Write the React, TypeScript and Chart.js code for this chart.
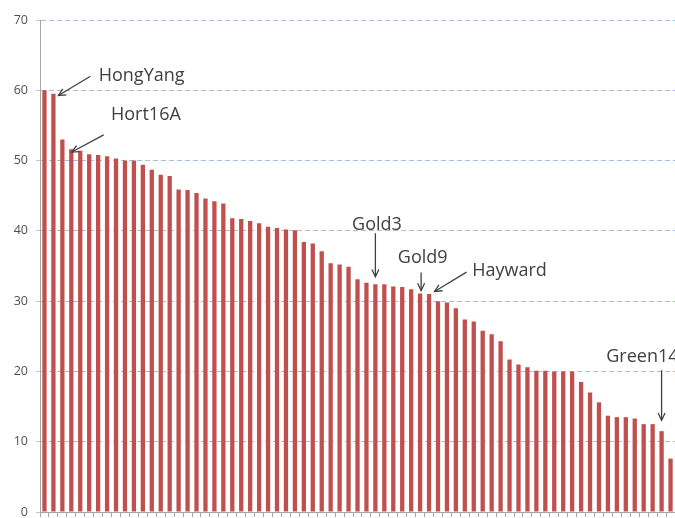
import React, { useEffect, useRef } from "react";
import { Chart, registerables } from "chart.js";

Chart.register(...registerables);

// ---- Data ----
const categories: string[] = [
  "1", "2", "3", "4", "5", "6", "7", "8", "9", "10",
  "11", "12", "13", "14", "15", "16", "17", "18", "19", "20",
  "21", "22", "23", "24", "25", "26", "27", "28", "29", "30",
  "31", "32", "33", "34", "35", "36", "37", "38", "39", "40",
  "41", "42", "43", "44", "45", "46", "47", "48", "49", "50",
  "51", "52", "53", "54", "55", "56", "57", "58", "59", "60",
  "61", "62", "63", "64", "65", "66", "67", "68", "69", "70",
  "71",
];

const values: number[] = [
  60.0, 59.5, 53.0, 51.6, 51.4, 50.9, 50.8, 50.6, 50.3, 50.0,
  50.0, 49.4, 48.7, 48.0, 47.8, 45.9, 45.8, 45.4, 44.6, 44.2,
  43.9, 41.8, 41.7, 41.4, 41.1, 40.6, 40.4, 40.2, 40.1, 38.4,
  38.2, 37.1, 35.4, 35.2, 34.9, 33.1, 32.6, 32.4, 32.4, 32.1,
  32.0, 31.7, 31.1, 31.0, 30.0, 29.8, 29.0, 27.4, 27.1, 25.8,
  25.3, 24.3, 21.7, 21.0, 20.6, 20.1, 20.1, 20.0, 20.0, 20.0,
  18.5, 17.0, 15.6, 13.7, 13.5, 13.5, 13.3, 12.5, 12.5, 11.5,
  7.6,
];

const yMin = 0;
const yMax = 70;
const yStep = 10;

const annotationLabels: string[] = ["HongYang", "Hort16A", "Gold3", "Gold9", "Hayward", "Green14"];
const annotationIndices: number[] = [1, 3, 37, 42, 43, 69];

// ---- Layout of annotations (offsets relative to the bar top) ----
type AnnLayout = { tx: number; ty: number; from: [number, number]; to: [number, number] };
const annotationLayout: Record<string, AnnLayout> = {
  HongYang: { tx: 45.3, ty: -12.5, from: [37, -17.5], to: [5, 1.7] },
  Hort16A: { tx: 39.7, ty: -29.3, from: [32.4, -14.5], to: [0.5, 2.7] },
  Gold3: { tx: -23.3, ty: -54.3, from: [0, -51], to: [0, -7.6] },
  Gold9: { tx: -22.3, ty: -30.2, from: [1, -21], to: [1, -3] },
  Hayward: { tx: 43.2, ty: -18.3, from: [37.5, -22], to: [5.5, -2.6] },
  Green14: { tx: -55.3, ty: -69.3, from: [0, -61], to: [0, -11] },
};

const FONT = "'Open Sans', 'DejaVu Sans', sans-serif";

const annotationPlugin = {
  id: "arrowAnnotations",
  afterDatasetsDraw(chart: any) {
    const ctx: CanvasRenderingContext2D = chart.ctx;
    const xs = chart.scales.x;
    const ys = chart.scales.y;
    ctx.save();
    ctx.fillStyle = "#404040";
    ctx.strokeStyle = "#404040";
    ctx.lineWidth = 1.3;
    ctx.font = `18px ${FONT}`;
    ctx.textAlign = "left";
    ctx.textBaseline = "alphabetic";
    annotationLabels.forEach((label, k) => {
      const idx = annotationIndices[k];
      const L = annotationLayout[label];
      const bx = xs.getPixelForValue(idx);
      const by = ys.getPixelForValue(values[idx]);
      ctx.fillText(label, bx + L.tx, by + L.ty);
      const x1 = bx + L.from[0];
      const y1 = by + L.from[1];
      const x2 = bx + L.to[0];
      const y2 = by + L.to[1];
      ctx.beginPath();
      ctx.moveTo(x1, y1);
      ctx.lineTo(x2, y2);
      ctx.stroke();
      const ang = Math.atan2(y2 - y1, x2 - x1);
      const head = 8;
      const spread = 0.45;
      ctx.beginPath();
      ctx.moveTo(x2 - head * Math.cos(ang - spread), y2 - head * Math.sin(ang - spread));
      ctx.lineTo(x2, y2);
      ctx.lineTo(x2 - head * Math.cos(ang + spread), y2 - head * Math.sin(ang + spread));
      ctx.stroke();
    });
    ctx.restore();
  },
};

export default function App() {
  const canvasRef = useRef<HTMLCanvasElement | null>(null);

  useEffect(() => {
    if (!canvasRef.current) return;
    Chart.defaults.font.family = FONT;
    const chart = new Chart(canvasRef.current, {
      type: "bar",
      data: {
        labels: categories,
        datasets: [
          {
            data: values,
            backgroundColor: "#C0504D",
            borderWidth: 0,
            barPercentage: 0.48,
            categoryPercentage: 1.0,
          },
        ],
      },
      options: {
        animation: false,
        responsive: false,
        maintainAspectRatio: false,
        layout: { padding: { top: 20, right: 0, left: 0, bottom: 0 } },
        plugins: {
          legend: { display: false },
          tooltip: { enabled: false },
        },
        scales: {
          x: {
            type: "category",
            offset: true,
            ticks: { display: false },
            grid: {
              offset: true,
              drawOnChartArea: false,
              drawTicks: true,
              tickLength: 5,
              tickColor: "#A6A6A6",
            },
            border: { display: true, color: "#A6A6A6", width: 1 },
            afterFit: (scale: any) => {
              scale.height = 6;
              scale.paddingLeft = 0;
              scale.paddingRight = 0;
            },
          },
          y: {
            min: yMin,
            max: yMax,
            ticks: {
              stepSize: yStep,
              color: "#505050",
              font: { family: FONT, size: 12.5 },
              padding: 8,
            },
            grid: {
              color: "#A3BEE8",
              lineWidth: 1,
              drawTicks: true,
              tickLength: 4,
              tickColor: "#B8C8E4",
            },
            border: { display: true, color: "#A6A6A6", width: 1, dash: [5, 3] },
            afterFit: (scale: any) => {
              scale.width = 40;
              scale.paddingTop = 0;
              scale.paddingBottom = 0;
            },
          },
        },
      },
      plugins: [annotationPlugin],
    });
    return () => chart.destroy();
  }, []);

  return (
    <div style={{ position: "absolute", left: 0, top: 0, width: 675, height: 518, background: "#fff" }}>
      <canvas ref={canvasRef} width={675} height={518} style={{ display: "block" }} />
    </div>
  );
}
